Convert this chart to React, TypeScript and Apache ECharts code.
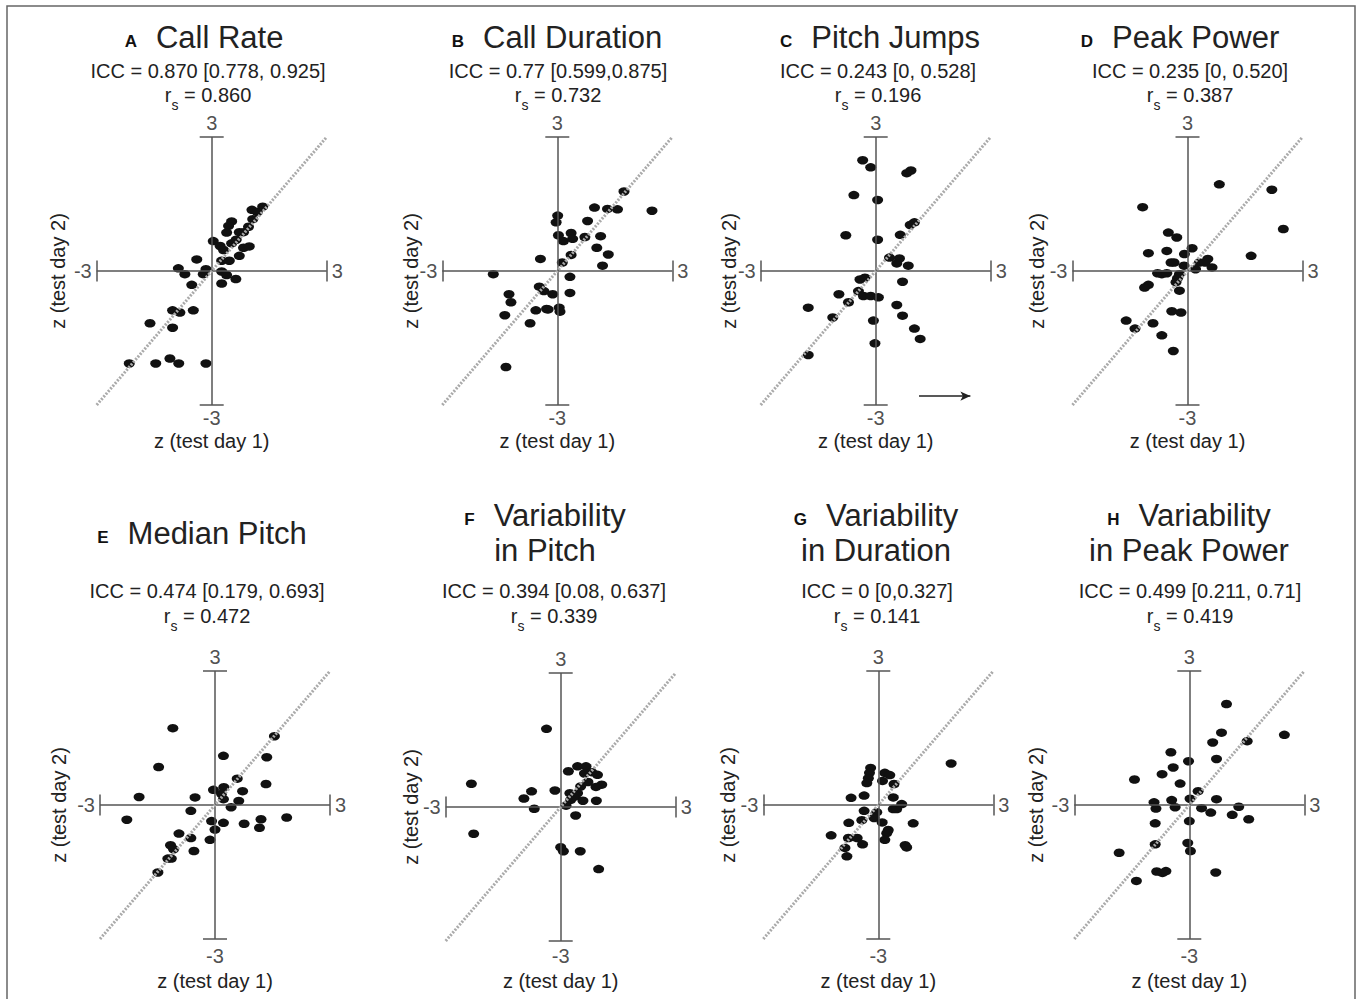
import React, { useEffect, useRef } from "react";
import * as echarts from "echarts";

// ---------- data ----------
const panelLetters = ["A", "B", "C", "D", "E", "F", "G", "H"];
const panelTitles = [
  "Call Rate",
  "Call Duration",
  "Pitch Jumps",
  "Peak Power",
  "Median Pitch",
  "Variability\nin Pitch",
  "Variability\nin Duration",
  "Variability\nin Peak Power",
];
const iccLabels = [
  "ICC = 0.870 [0.778, 0.925]",
  "ICC = 0.77 [0.599,0.875]",
  "ICC = 0.243 [0, 0.528]",
  "ICC = 0.235 [0, 0.520]",
  "ICC = 0.474 [0.179, 0.693]",
  "ICC = 0.394 [0.08, 0.637]",
  "ICC = 0 [0,0.327]",
  "ICC = 0.499 [0.211, 0.71]",
];
const rsLabels = ["0.860", "0.732", "0.196", "0.387", "0.472", "0.339", "0.141", "0.419"];
const tickValues = [-3, 3];
const xAxisName = "z (test day 1)";
const yAxisName = "z (test day 2)";

const callRate = [
  [1.33, 1.44], [1.05, 1.37], [1.19, 1.32], [1.07, 1.16], [0.52, 1.11], [0.44, 1.01],
  [0.96, 0.99], [0.39, 0.86], [0.72, 0.87], [0.83, 0.87], [0.04, 0.67], [0.64, 0.7],
  [0.52, 0.62], [0.22, 0.56], [0.31, 0.47], [0.83, 0.52], [0.98, 0.55], [0.72, 0.34],
  [-0.39, 0.26], [0.26, 0.23], [0.46, 0.23], [-0.87, 0.06], [-0.15, 0.04], [-0.22, -0.07],
  [-0.7, -0.07], [0.26, -0.01], [0.39, -0.09], [0.63, -0.18], [0.26, -0.28], [-0.52, -0.31],
  [-1.02, -0.88], [-0.83, -0.93], [-0.48, -0.88], [-1.61, -1.17], [-1.02, -1.27],
  [-2.15, -2.07], [-1.46, -2.07], [-1.09, -1.96], [-0.86, -2.07], [-0.15, -2.07],
];
const callDuration = [
  [1.74, 1.78], [2.47, 1.35], [0.97, 1.42], [1.31, 1.39], [1.57, 1.38], [0.01, 1.24],
  [-0.03, 1.09], [0.79, 1.12], [0.03, 0.8], [0.36, 0.85], [0.16, 0.67], [0.4, 0.72],
  [0.72, 0.76], [1.13, 0.78], [1.03, 0.52], [0.36, 0.36], [1.33, 0.37], [-0.44, 0.27],
  [0.13, 0.19], [1.18, 0.12], [-1.67, -0.07], [0.33, -0.13], [-0.47, -0.35], [-0.35, -0.45],
  [-0.12, -0.52], [0.33, -0.49], [-1.26, -0.52], [-1.21, -0.7], [-0.56, -0.88], [-0.28, -0.85],
  [-0.24, -0.86], [0.05, -0.82], [0.07, -0.91], [-1.37, -0.99], [-0.71, -1.17], [-1.34, -2.15],
];
const pitchJumps = [
  [-0.34, 2.48], [-0.13, 2.32], [0.81, 2.19], [0.92, 2.25], [-0.57, 1.7], [0.05, 1.59],
  [0.9, 1.03], [1.01, 1.09], [-0.78, 0.8], [0.05, 0.7], [0.64, 0.81], [0.36, 0.3],
  [0.62, 0.28], [0.55, 0.17], [0.85, 0.12], [-0.41, -0.19], [-0.28, -0.15], [0.7, -0.24],
  [-0.45, -0.45], [-0.32, -0.56], [-0.13, -0.56], [0.07, -0.59], [-0.96, -0.52], [-0.71, -0.7],
  [-1.76, -0.82], [0.55, -0.76], [-1.12, -1.04], [-0.06, -1.11], [0.7, -1.0], [1.01, -1.29],
  [1.16, -1.52], [-0.02, -1.62], [-1.76, -1.88],
];
const peakPower = [
  [0.83, 1.94], [2.2, 1.82], [-1.17, 1.43], [2.5, 0.94], [-0.5, 0.86], [-0.28, 0.75],
  [-1.02, 0.4], [-0.54, 0.45], [0.12, 0.51], [-0.08, 0.38], [1.66, 0.34], [-0.43, 0.19],
  [-0.35, 0.19], [-0.09, 0.12], [0.31, 0.19], [0.53, 0.27], [0.46, 0.19], [0.64, 0.08],
  [0.21, 0.04], [-0.78, -0.05], [-0.67, -0.07], [-0.54, -0.05], [-0.21, -0.07], [-0.26, -0.16],
  [-0.3, -0.25], [-1.02, -0.31], [-1.12, -0.37], [-0.21, -0.44], [-0.41, -0.9], [-0.17, -0.93],
  [-1.6, -1.11], [-1.37, -1.29], [-0.9, -1.17], [-0.67, -1.44], [-0.37, -1.79],
];
const medianPitch = [
  [-1.1, 1.72], [1.55, 1.54], [0.22, 1.1], [1.35, 1.07], [-1.47, 0.85], [0.58, 0.59],
  [1.33, 0.47], [-0.04, 0.34], [0.23, 0.4], [0.72, 0.31], [0.17, 0.25], [0.22, 0.13],
  [-1.98, 0.18], [-0.52, 0.17], [0.62, 0.09], [0.42, -0.05], [-0.63, -0.13], [-2.3, -0.33],
  [-0.09, -0.36], [0.22, -0.4], [0.76, -0.42], [1.2, -0.32], [1.87, -0.28], [1.16, -0.51],
  [0.0, -0.55], [-0.94, -0.64], [-0.63, -0.74], [-0.13, -0.78], [-1.16, -0.9], [-1.08, -0.99],
  [-0.55, -1.03], [-1.23, -1.2], [-1.14, -1.2], [-1.49, -1.51],
];
const variabilityPitch = [
  [-0.37, 1.75], [0.44, 0.91], [0.66, 0.91], [0.2, 0.8], [0.62, 0.75], [0.81, 0.78],
  [0.96, 0.72], [-2.33, 0.52], [0.71, 0.56], [0.52, 0.46], [1.07, 0.5], [0.92, 0.45],
  [-0.76, 0.35], [-0.15, 0.37], [0.24, 0.31], [0.44, 0.31], [0.38, 0.25], [-0.96, 0.19],
  [0.26, 0.16], [0.58, 0.14], [0.93, 0.14], [0.14, 0.03], [-0.69, -0.04], [0.39, -0.19],
  [0.33, 0.22], [-2.27, -0.6], [0.0, -0.9], [0.07, -0.99], [0.51, -0.99], [0.99, -1.39],
];
const variabilityDuration = [
  [1.9, 0.93], [-0.2, 0.83], [-0.23, 0.72], [-0.26, 0.6], [-0.3, 0.49], [0.17, 0.72],
  [0.3, 0.67], [0.11, 0.54], [0.41, 0.47], [-0.71, 0.16], [-0.37, 0.21], [0.39, 0.17],
  [0.61, 0.02], [0.39, -0.09], [0.48, -0.09], [-0.37, -0.13], [-0.04, -0.16], [-0.11, -0.29],
  [-0.43, -0.34], [-0.77, -0.4], [0.1, -0.39], [0.91, -0.41], [0.26, -0.56], [0.22, -0.63],
  [-1.23, -0.68], [-0.78, -0.74], [-0.55, -0.74], [0.17, -0.78], [-0.41, -0.88], [0.7, -0.9],
  [0.74, -0.95], [-0.87, -0.96], [-0.82, -1.15],
];
const variabilityPeakPower = [
  [0.97, 2.26], [0.84, 1.62], [0.61, 1.4], [1.51, 1.43], [2.48, 1.57], [-0.48, 1.18],
  [0.71, 1.03], [-0.02, 0.98], [-0.42, 0.84], [-0.71, 0.69], [-1.43, 0.57], [-0.24, 0.48],
  [0.23, 0.31], [0.02, 0.14], [-0.46, 0.11], [0.71, 0.13], [-0.92, 0.06], [-0.87, -0.08],
  [-0.37, -0.05], [0.32, -0.07], [0.56, -0.17], [1.29, -0.04], [1.12, -0.22], [1.55, -0.32],
  [0.0, -0.36], [-0.89, -0.41], [-0.89, -0.88], [-0.04, -0.85], [0.03, -1.03], [-1.83, -1.07],
  [-0.85, -1.49], [-0.7, -1.52], [-0.61, -1.48], [0.69, -1.51], [-1.38, -1.7],
];
const panelData = [
  callRate, callDuration, pitchJumps, peakPower,
  medianPitch, variabilityPitch, variabilityDuration, variabilityPeakPower,
];
// annotation arrow in panel C (data units)
const arrowC = { from: [1.13, -2.8], to: [2.47, -2.8] };

// ---------- layout ----------
const FONT = "'Liberation Sans', Arial, Helvetica, sans-serif";
const TEXT = "#222";
const AXIS = "#555";
const HALF_W = 115;
const HALF_H = 134;
const layout = [
  { cx: 211.7, cy: 271, tx: 204, sx: 208, ty: 37, iy: 71, ry: 95, xg: 26, yg: 29, bd: 3 },
  { cx: 557.3, cy: 271, tx: 557, sx: 558, ty: 37, iy: 71, ry: 95, xg: 26, yg: 21, bd: 3 },
  { cx: 875.7, cy: 271, tx: 880, sx: 878, ty: 37, iy: 71, ry: 95, xg: 26, yg: 22, bd: 3 },
  { cx: 1187.5, cy: 271, tx: 1180, sx: 1190, ty: 37, iy: 71, ry: 95, xg: 26, yg: 26, bd: 3 },
  { cx: 215, cy: 805, tx: 202, sx: 207, ty: 533, iy: 591, ry: 616, xg: 32, yg: 31, bd: 7 },
  { cx: 560.7, cy: 807, tx: 545, sx: 554, ty: 533, iy: 591, ry: 616, xg: 30, yg: 25, bd: 5 },
  { cx: 878.3, cy: 805, tx: 876, sx: 877, ty: 533, iy: 591, ry: 616, xg: 32, yg: 25, bd: 7 },
  { cx: 1189.3, cy: 805, tx: 1189, sx: 1190, ty: 533, iy: 591, ry: 616, xg: 32, yg: 28, bd: 7 },
];
const CAP_X = 12 / (HALF_W / 3);
const CAP_Y = 10.5 / (HALF_H / 3);

function buildOption() {
  const grid: any[] = [];
  const xAxis: any[] = [];
  const yAxis: any[] = [];
  const series: any[] = [];
  const graphic: any[] = [];

  graphic.push({
    type: "rect",
    shape: { x: 7, y: 6, width: 1348, height: 1010 },
    style: { fill: "none", stroke: "#666", lineWidth: 1.5 },
    silent: true,
  });

  layout.forEach((L, i) => {
    grid.push({
      left: L.cx - HALF_W,
      top: L.cy - HALF_H,
      width: HALF_W * 2,
      height: HALF_H * 2,
      containLabel: false,
    });
    const nameStyle = { fontSize: 20, color: TEXT, fontFamily: FONT };
    xAxis.push({
      gridIndex: i, type: "value", min: -3, max: 3,
      axisLine: { show: false }, axisTick: { show: false },
      axisLabel: { show: false }, splitLine: { show: false },
      name: xAxisName, nameLocation: "middle", nameGap: L.xg, nameTextStyle: nameStyle,
    });
    yAxis.push({
      gridIndex: i, type: "value", min: -3, max: 3,
      axisLine: { show: false }, axisTick: { show: false },
      axisLabel: { show: false }, splitLine: { show: false },
      name: yAxisName, nameLocation: "middle", nameRotate: 90, nameGap: L.yg,
      nameTextStyle: nameStyle,
    });

    const axisLines: any[] = [
      [{ coord: [-3, 0] }, { coord: [3, 0] }],
      [{ coord: [0, -3] }, { coord: [0, 3] }],
    ];
    tickValues.forEach((v) => {
      axisLines.push([{ coord: [v, -CAP_Y] }, { coord: [v, CAP_Y] }]);
      axisLines.push([{ coord: [-CAP_X, v] }, { coord: [CAP_X, v] }]);
    });
    axisLines.push([
      {
        coord: [tickValues[0], tickValues[0]],
        lineStyle: { color: "#aaa", width: 3, type: [2, 1.5] },
      },
      { coord: [tickValues[1], tickValues[1]] },
    ]);

    const tickData: any[] = [];
    tickValues.forEach((v) => {
      tickData.push({ name: String(v), value: [v, 0], label: { position: v < 0 ? "left" : "right", distance: 5 } });
      tickData.push({ name: String(v), value: [0, v], label: { position: v < 0 ? "bottom" : "top", distance: v < 0 ? L.bd : 4 } });
    });

    series.push({
      type: "scatter",
      xAxisIndex: i, yAxisIndex: i,
      z: 1,
      clip: false,
      silent: true,
      symbolSize: 0,
      data: tickData,
      label: {
        show: true, formatter: "{b}", fontSize: 20, color: TEXT, fontFamily: FONT, distance: 5,
      },
      markLine: {
        silent: true,
        symbol: ["none", "none"],
        label: { show: false },
        lineStyle: { color: AXIS, width: 1.5, type: "solid" },
        emphasis: { disabled: true },
        data: axisLines,
      },
    });

    if (i === 2) {
      series.push({
        type: "scatter",
        xAxisIndex: i, yAxisIndex: i,
        z: 1, clip: false, silent: true, symbolSize: 0,
        data: [arrowC.from],
        markLine: {
          silent: true,
          symbol: ["none", "arrow"],
          symbolSize: [7, 10],
          label: { show: false },
          lineStyle: { color: "#222", width: 1.5, type: "solid" },
          emphasis: { disabled: true },
          data: [[{ coord: arrowC.from }, { coord: arrowC.to }]],
        },
      });
    }

    series.push({
      type: "scatter",
      xAxisIndex: i, yAxisIndex: i,
      z: 3,
      symbol: "circle",
      symbolSize: [11, 8.5],
      itemStyle: { color: "#111", opacity: 1 },
      data: panelData[i],
    });

    // titles
    const parts = panelTitles[i].split("\n");
    graphic.push({
      type: "text",
      x: L.tx,
      y: L.ty,
      silent: true,
      style: {
        text: `{l|${panelLetters[i]}}{t|${parts[0]}}` + (parts.length > 1 ? `\n{t|${parts[1]}}` : ""),
        align: "center",
        verticalAlign: "middle",
        fill: TEXT,
        rich: {
          l: {
            fontSize: 17, fontWeight: "bold", fontFamily: FONT, fill: "#111",
            lineHeight: 17, verticalAlign: "bottom", padding: [0, 19, 5, 0],
          },
          t: { fontSize: 31, fontFamily: FONT, fill: TEXT, lineHeight: 35 },
        },
      },
    });
    graphic.push({
      type: "text",
      x: L.sx,
      y: L.iy,
      silent: true,
      style: {
        text: iccLabels[i],
        align: "center",
        verticalAlign: "middle",
        fill: TEXT,
        fontSize: 20,
        fontFamily: FONT,
      },
    });
    graphic.push({
      type: "text",
      x: L.sx,
      y: L.ry,
      silent: true,
      style: {
        text: `{r|r}{s|s}{r| = ${rsLabels[i]}}`,
        align: "center",
        verticalAlign: "middle",
        fill: TEXT,
        rich: {
          r: { fontSize: 20, fontFamily: FONT, fill: TEXT, lineHeight: 34 },
          s: { fontSize: 14, fontFamily: FONT, fill: TEXT, lineHeight: 16, verticalAlign: "bottom" },
        },
      },
    });
  });

  return {
    animation: false,
    backgroundColor: "#fff",
    grid,
    xAxis,
    yAxis,
    series,
    graphic,
  };
}

export default function App() {
  const ref = useRef<HTMLDivElement>(null);
  useEffect(() => {
    if (!ref.current) return;
    const chart = echarts.init(ref.current, undefined, { renderer: "svg" });
    chart.setOption(buildOption() as any);
    return () => chart.dispose();
  }, []);
  return (
    <div
      ref={ref}
      style={{ position: "fixed", left: 0, top: 0, width: 1358, height: 999, background: "#fff" }}
    />
  );
}
